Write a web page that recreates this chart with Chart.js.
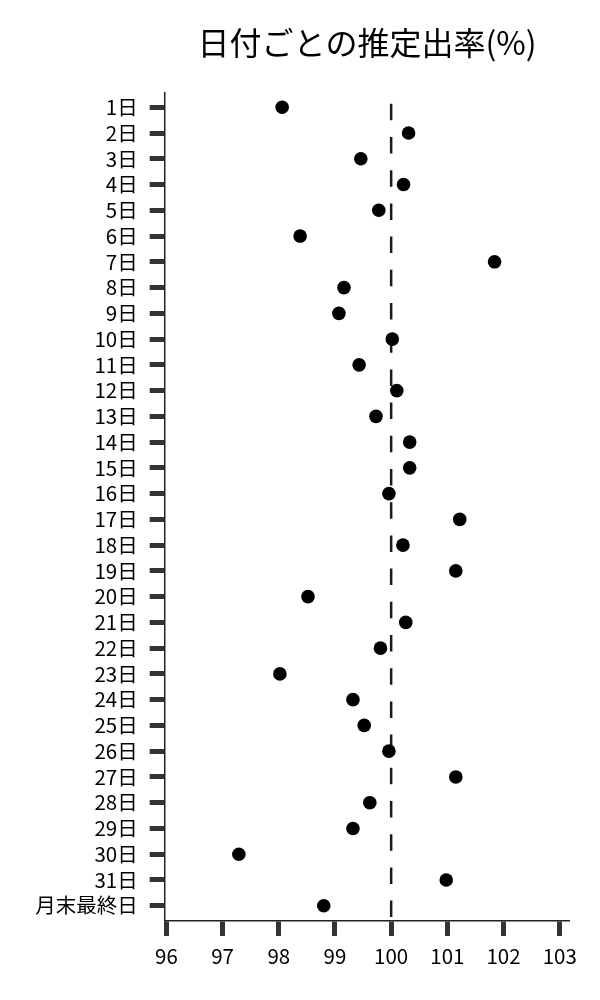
<!DOCTYPE html>
<html>
<head>
<meta charset="utf-8">
<script src="https://cdn.jsdelivr.net/npm/chart.js@4/dist/chart.umd.min.js"></script>
<style>
html,body{margin:0;padding:0;background:#fff;}
#wrap{width:600px;height:1000px;position:relative;}
</style>
</head>
<body>
<div id="wrap"><canvas id="c" width="600" height="1000"></canvas></div>
<script>
const titleText = '日付ごとの推定出率(%)';
const categories = ['1日','2日','3日','4日','5日','6日','7日','8日','9日','10日','11日','12日','13日','14日','15日','16日','17日','18日','19日','20日','21日','22日','23日','24日','25日','26日','27日','28日','29日','30日','31日','月末最終日'];
const rates = [98.06,100.31,99.46,100.22,99.78,98.38,101.84,99.16,99.07,100.02,99.43,100.10,99.73,100.33,100.33,99.96,101.22,100.21,101.15,98.52,100.26,99.81,98.02,99.32,99.52,99.96,101.15,99.62,99.32,97.29,100.98,98.80];
const xTicks = [96,97,98,99,100,101,102,103];
const xMin = 95.97;
const xMax = 103.17;
const yMin = -0.555;
const yMax = 31.594;
const refValue = 100;

const FONT = "'Noto Sans CJK JP','Noto Sans',sans-serif";
Chart.defaults.font.family = FONT;
Chart.defaults.color = '#000';

const refLine = {
  id: 'refLine',
  beforeDatasetsDraw(chart) {
    const {ctx, chartArea, scales} = chart;
    const x = scales.x.getPixelForValue(refValue);
    ctx.save();
    ctx.strokeStyle = '#1a1a1a';
    ctx.lineWidth = 2.5;
    ctx.setLineDash([16.5, 16.7]);
    ctx.lineDashOffset = 22.4;
    ctx.beginPath();
    ctx.moveTo(x, chartArea.top);
    ctx.lineTo(x, chartArea.bottom);
    ctx.stroke();
    ctx.restore();
  }
};

const areaTitle = {
  id: 'areaTitle',
  afterDraw(chart) {
    const {ctx, chartArea} = chart;
    ctx.save();
    ctx.fillStyle = '#000';
    ctx.font = '32px ' + FONT;
    ctx.textAlign = 'center';
    ctx.textBaseline = 'middle';
    ctx.fillText(titleText, (chartArea.left + chartArea.right) / 2, 43);
    ctx.restore();
  }
};

new Chart(document.getElementById('c'), {
  type: 'scatter',
  data: {
    datasets: [{
      data: categories.map((c, i) => ({x: rates[i], y: i})),
      backgroundColor: '#000',
      borderColor: '#000',
      pointRadius: 6.8,
      pointHoverRadius: 6.8,
      borderWidth: 0
    }]
  },
  options: {
    responsive: false,
    animation: false,
    devicePixelRatio: 1,
    layout: {padding: {left: 0, right: 30.7, top: 93, bottom: 0}},
    plugins: {
      legend: {display: false},
      tooltip: {enabled: false},
      title: {display: false}
    },
    scales: {
      x: {
        type: 'linear',
        min: xMin,
        max: xMax,
        afterBuildTicks(scale) { scale.ticks = xTicks.map(v => ({value: v})); },
        afterFit(scale) { scale.height = 79; },
        grid: {
          drawOnChartArea: false,
          drawTicks: true,
          tickLength: 15,
          tickWidth: 5,
          tickColor: '#333'
        },
        border: {display: true, color: '#222', width: 1.5},
        ticks: {
          color: '#000',
          font: {size: 20.5},
          padding: 8,
          autoSkip: false,
          maxRotation: 0
        }
      },
      y: {
        type: 'linear',
        reverse: true,
        min: yMin,
        max: yMax,
        afterBuildTicks(scale) { scale.ticks = categories.map((c, i) => ({value: i})); },
        afterFit(scale) { scale.width = 164.7; },
        grid: {
          drawOnChartArea: false,
          drawTicks: true,
          tickLength: 15,
          tickWidth: 5,
          tickColor: '#333'
        },
        border: {display: true, color: '#222', width: 1.5},
        ticks: {
          color: '#000',
          font: {size: 20.5},
          padding: 12,
          autoSkip: false,
          callback: (v) => categories[v]
        }
      }
    }
  },
  plugins: [refLine, areaTitle]
});
</script>
</body>
</html>
